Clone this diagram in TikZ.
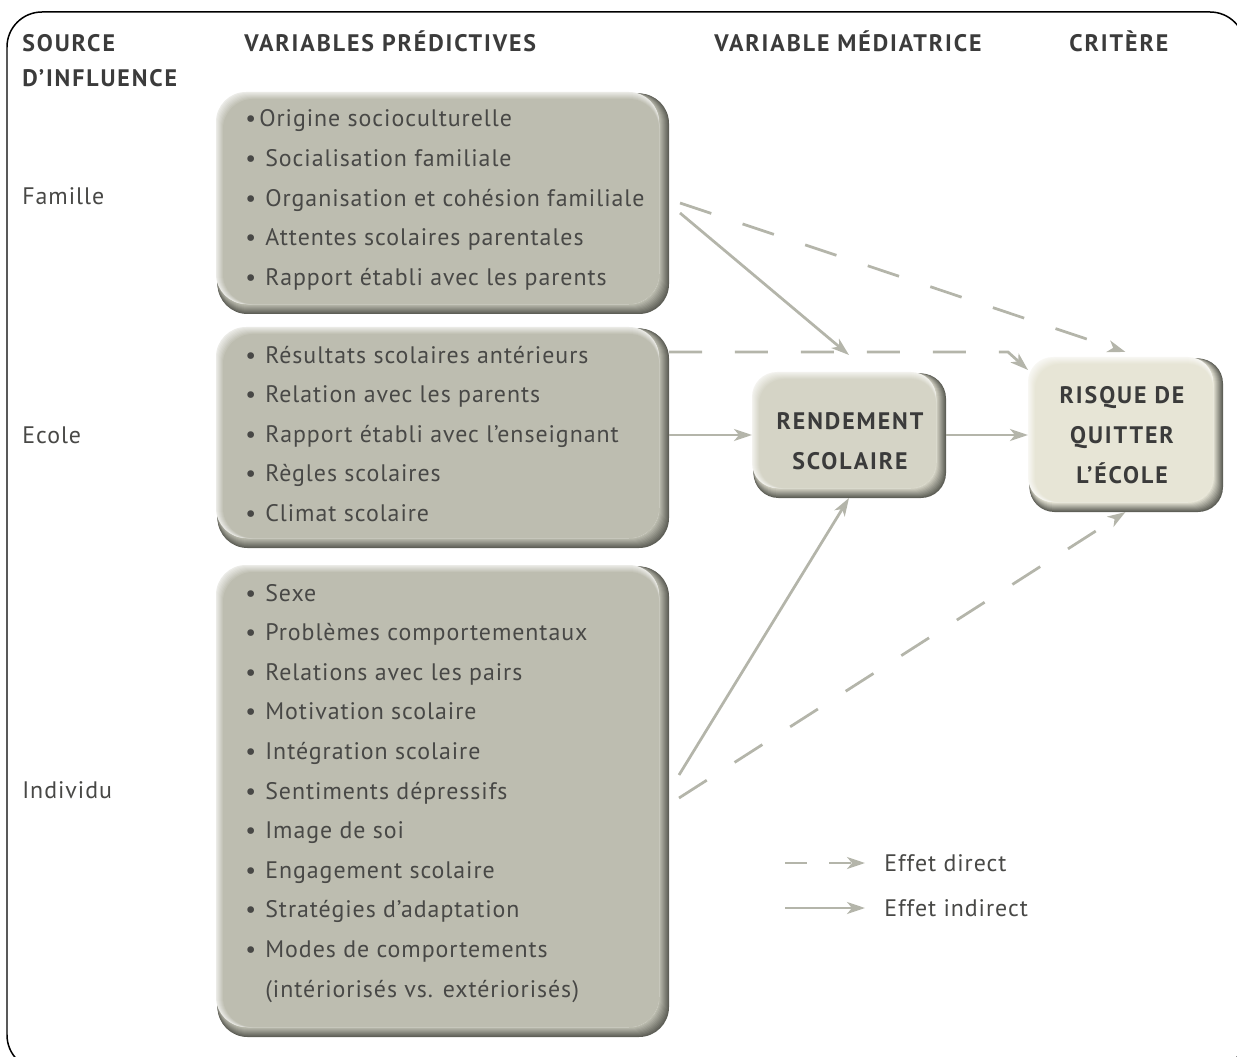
\documentclass[tikz,border=0pt]{standalone}
\usepackage{fontspec}
\setmainfont{PT Sans}
\newfontfamily\itemfont{PT Sans}[LetterSpace=4]
\newfontfamily\headfont{PT Sans}[LetterSpace=8]
\usetikzlibrary{arrows.meta,fit}

\definecolor{panelgray}{HTML}{BDBDB0}
\definecolor{rendcol}{HTML}{D5D4C6}
\definecolor{risquecol}{HTML}{E7E5D6}
\definecolor{shadecol}{HTML}{5E5F57}
\definecolor{arrowcol}{HTML}{B4B5AA}
\definecolor{txtcol}{HTML}{484846}
\definecolor{headcol}{HTML}{3B3B3B}

\newcommand{\itm}{\makebox[0.4cm][l]{•}}
\newcommand{\itmfirst}{\makebox[0.28cm][l]{•}}

% bevelled panel: node name, base colour, corner radius
\newcommand{\bevelpanel}[3]{%
  \foreach \i in {0,...,9}{%
    \pgfmathtruncatemacro\mixpct{\i*11}%
    \fill[#2!\mixpct!shadecol, rounded corners=#3]
      ([xshift=0.03cm, yshift=-0.03cm]#1.north west) rectangle ([xshift=-\i*0.02cm, yshift=\i*0.02cm]#1.south east);
  }%
  \foreach \i in {0,...,7}{%
    \pgfmathtruncatemacro\mixpct{30+\i*10}%
    \fill[#2!\mixpct!white, rounded corners=#3]
      ([xshift=\i*0.02cm, yshift=-\i*0.02cm]#1.north west) rectangle ([xshift=-0.2cm, yshift=0.2cm]#1.south east);
  }%
}

\tikzset{
  panel/.style={inner sep=0pt, outer sep=0pt},
  listitem/.style={anchor=base west, inner sep=0pt, text=txtcol, font=\itemfont\fontsize{13.6}{16}\selectfont},
  colhead/.style={anchor=base west, inner sep=0pt, text=headcol, font=\headfont\bfseries\fontsize{13.6}{16}\selectfont},
  boxlabel/.style={align=center, inner sep=0pt, text=headcol, font=\headfont\bfseries\fontsize{13.6}{22.7}\selectfont},
  effect/.style={draw=arrowcol, line width=0.055cm, -{Stealth[length=0.36cm,width=0.24cm,inset=0.1cm]}},
  direct/.style={effect, dash pattern=on 0.66cm off 0.66cm},
}

\begin{document}
\begin{tikzpicture}[x=0.02cm,y=-0.02cm]
	\useasboundingbox (0,0) rectangle (1237,1057);
	\begin{scope}
	\clip (0,0) rectangle (1237,1057);
	\draw[line width=0.03cm, rounded corners=0.7cm] (7,12) rectangle (1245,1070);
	\end{scope}

	% column headers
	\node[colhead] (hsrc1) at (22,51.5) {SOURCE};
	\node[colhead] (hsrc2) at (22,86.5) {D’INFLUENCE};
	\node[colhead] (hpred) at (244,51.5) {VARIABLES PRÉDICTIVES};
	\node[colhead] (hmed) at (714,51.5) {VARIABLE MÉDIATRICE};
	\node[colhead] (hcrit) at (1069,51.5) {CRITÈRE};

	% sources
	\node[listitem] (lfam) at (22,204.5) {Famille};
	\node[listitem] (lecole) at (22,443.5) {Ecole};
	\node[listitem] (lind) at (22,798.5) {Individu};

	% panels
	\node[panel, fit={(216,92) (669,314)}] (fam) {};
	\node[panel, fit={(216,327) (669,548)}] (ecole) {};
	\node[panel, fit={(216,565) (669,1037)}] (indiv) {};
	\node[panel, fit={(752,372) (946,498)}] (rend) {};
	\node[panel, fit={(1028,357) (1223,512)}] (risque) {};
	\bevelpanel{fam}{panelgray}{0.6cm}
	\bevelpanel{ecole}{panelgray}{0.6cm}
	\bevelpanel{indiv}{panelgray}{0.6cm}
	\bevelpanel{rend}{rendcol}{0.5cm}
	\bevelpanel{risque}{risquecol}{0.5cm}

	% famille
	\node[listitem] (f1) at (245,127) {\itmfirst Origine socioculturelle};
	\node[listitem] (f2) at (245,166.6) {\itm Socialisation familiale};
	\node[listitem] (f3) at (245,206.2) {\itm Organisation et cohésion familiale};
	\node[listitem] (f4) at (245,245.8) {\itm Attentes scolaires parentales};
	\node[listitem] (f5) at (245,285.4) {\itm Rapport établi avec les parents};

	% ecole
	\node[listitem] (e1) at (245,363) {\itm Résultats scolaires antérieurs};
	\node[listitem] (e2) at (245,402.6) {\itm Relation avec les parents};
	\node[listitem] (e3) at (245,442.2) {\itm Rapport établi avec l’enseignant};
	\node[listitem] (e4) at (245,481.8) {\itm Règles scolaires};
	\node[listitem] (e5) at (245,521.4) {\itm Climat scolaire};

	% individu
	\node[listitem] (i1) at (245,601) {\itm Sexe};
	\node[listitem] (i2) at (245,640.6) {\itm Problèmes comportementaux};
	\node[listitem] (i3) at (245,680.2) {\itm Relations avec les pairs};
	\node[listitem] (i4) at (245,719.8) {\itm Motivation scolaire};
	\node[listitem] (i5) at (245,759.4) {\itm Intégration scolaire};
	\node[listitem] (i6) at (245,799) {\itm Sentiments dépressifs};
	\node[listitem] (i7) at (245,838.6) {\itm Image de soi};
	\node[listitem] (i8) at (245,878.2) {\itm Engagement scolaire};
	\node[listitem] (i9) at (245,917.8) {\itm Stratégies d’adaptation};
	\node[listitem] (i10) at (245,957.4) {\itm Modes de comportements};
	\node[listitem] (i11) at (245,997) {\hspace{0.4cm}(intériorisés vs. extériorisés)};

	% mediator and criterion
	\node[boxlabel] (rendtxt) at (850,441) {RENDEMENT\\SCOLAIRE};
	\node[boxlabel] (risquetxt) at (1122,435) {RISQUE DE\\QUITTER\\L’ÉCOLE};

	% effects
	\coordinate (famout1) at (680,213);
	\coordinate (famout2) at (680,203);
	\coordinate (bend) at (1008,352);
	\coordinate (indout1) at (679,775);
	\coordinate (indout2) at (679,798);
	\draw[effect] (famout1) -- ([yshift=0.34cm]rend.north);
	\draw[direct] (famout2) -- ([yshift=0.1cm]risque.north);
	\draw[direct] ([yshift=-0.5cm]ecole.north east) -- (bend) -- ([yshift=-0.26cm]risque.north west);
	\draw[effect] (ecole.east |- rend.west) -- (rend.west);
	\draw[effect] (rend.east) -- (risque.west |- rend.east);
	\draw[effect] (indout1) -- (rend.south);
	\draw[direct] (indout2) -- (risque.south);

	% legend
	\node[listitem] (ldirect) at (884,871.5) {Effet direct};
	\node[listitem] (lindirect) at (884,916.5) {Effet indirect};
	\coordinate (legd) at (785,863);
	\coordinate (legs) at (785,908);
	\draw[effect, dash pattern=on 0.44cm off 0.44cm, shorten >=0.38cm] (legd) -- (legd -| ldirect.west);
	\draw[effect, shorten >=0.38cm] (legs) -- (legs -| lindirect.west);
\end{tikzpicture}
\end{document}
